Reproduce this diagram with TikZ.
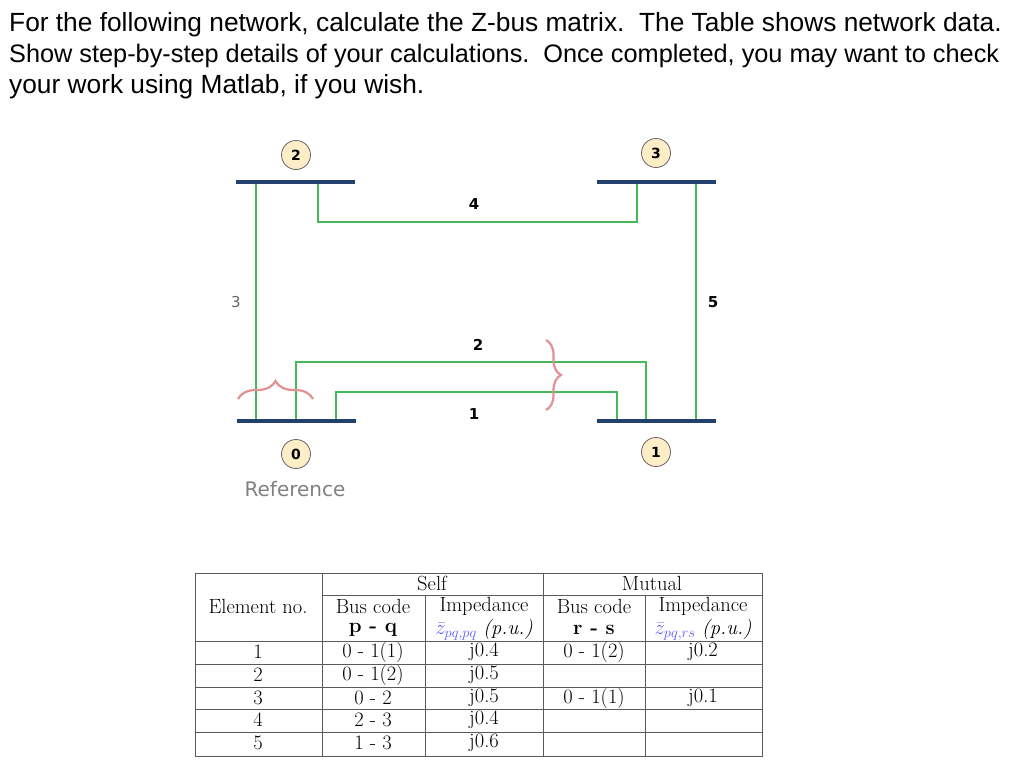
\documentclass[tikz,border=0pt]{standalone}
\usepackage{fontspec}
\newfontfamily\hel{Liberation Sans}
\newfontfamily\dvs{DejaVu Sans}
\usetikzlibrary{decorations.pathreplacing}
\definecolor{busblue}{RGB}{35,65,110}
\definecolor{lgreen}{RGB}{70,185,90}
\definecolor{circfill}{RGB}{253,238,200}
\definecolor{pinkb}{RGB}{225,145,145}
\definecolor{zblue}{RGB}{90,90,250}
\definecolor{tline}{RGB}{90,90,90}
\tikzset{
  bus/.style={line width=4pt,draw=busblue},
  elem/.style={line width=1.6pt,draw=lgreen},
  busnum/.style={circle,draw=gray!80!black,fill=circfill,line width=0.8pt,minimum size=29pt,inner sep=0pt,font=\dvs\bfseries\fontsize{14}{16}\selectfont},
  elab/.style={font=\dvs\bfseries\fontsize{15}{17}\selectfont},
  hdr/.style={anchor=base west,inner sep=0pt,font=\hel\fontsize{26.3}{28}\selectfont},
  brc/.style={draw=pinkb,line width=2.2pt,decorate},
  tl/.style={draw=tline,line width=0.7pt},
  tc/.style={font=\fontsize{20.5}{22}\selectfont,inner sep=0pt}
}
\begin{document}
\begin{tikzpicture}[x=1pt,y=-1pt]
\useasboundingbox (0,0) rectangle (1024,774);
% header
\node[hdr] (h1) at (9,31) {For the following network, calculate the Z-bus matrix.\ \ The Table shows network data.};
\node[hdr,font=\hel\fontsize{25.3}{28}\selectfont] (h2) at (9,62) {Show step-by-step details of your calculations.\ \ Once completed, you may want to check};
\node[hdr] (h3) at (9,93) {your work using Matlab, if you wish.};
% buses
\draw[bus] (236,182) -- (355,182);
\draw[bus] (597,182) -- (716,182);
\draw[bus] (237,421) -- (356,421);
\draw[bus] (597,421) -- (716,421);
\node[busnum] (n2) at (296,155) {2};
\node[busnum] (n3) at (656,153) {3};
\node[busnum] (n0) at (296,454) {0};
\node[busnum] (n1) at (656,452) {1};
\node[font=\dvs\fontsize{20}{22}\selectfont,text=gray] (ref) at (295,489) {Reference};
% elements
\draw[elem] (256,184) -- (256,419);
\draw[elem] (318,184) -- (318,222) -- (637,222) -- (637,184);
\draw[elem] (696,184) -- (696,419);
\draw[elem] (296,419) -- (296,362) -- (646,362) -- (646,419);
\draw[elem] (336,419) -- (336,392) -- (617,392) -- (617,419);
\node[elab] (l4) at (474,204) {4};
\node[elab] (l5) at (713,302) {5};
\node[elab] (l2) at (478,345) {2};
\node[elab] (l1) at (474,414) {1};
\node[font=\dvs\fontsize{15}{17}\selectfont,text=gray!80!black] (l3) at (236,302) {3};
% braces
\draw[brc,decoration={brace,amplitude=15pt}] (546,340) -- (546,410);
\draw[brc,decoration={brace,amplitude=18pt}] (238,399) -- (313,399);
% table
\draw[tl] (195,573) rectangle (762,756);
\foreach \y in {641,664,687,709,732} \draw[tl] (195,\y) -- (762,\y);
\draw[tl] (322,595) -- (762,595);
\foreach \x in {322,543} \draw[tl] (\x,573) -- (\x,756);
\foreach \x in {425,645} \draw[tl] (\x,595) -- (\x,756);
\node[tc] (ts) at (432,583) {Self};
\node[tc] (tm) at (652,583) {Mutual};
\node[tc] (te) at (258,606) {Element no.};
\node[tc] (tb1) at (373,606) {Bus code};
\node[tc] (ti1) at (484,606) {Impedance};
\node[tc] (tb2) at (594,606) {Bus code};
\node[tc] (ti2) at (703,606) {Impedance};
\node[tc] (pq) at (373,630) {\textbf{p - q}};
\node[tc] (rs) at (594,630) {\textbf{r - s}};
\node[tc] (z1) at (484,630) {$\textcolor{zblue}{\bar z_{pq,pq}}$ \textit{(p.u.)}};
\node[tc] (z2) at (703,630) {$\textcolor{zblue}{\bar z_{pq,rs}}$ \textit{(p.u.)}};
\foreach \y/\e/\b/\i in {652/1/0 - 1(1)/j0.4, 675/2/0 - 1(2)/j0.5, 698/3/0 - 2/j0.5, 720/4/2 - 3/j0.4, 743/5/1 - 3/j0.6}{
  \node[tc] at (258,\y) {\e};
  \node[tc] at (373,\y) {\b};
  \node[tc] at (484,\y) {\i};
}
\node[tc] (m1b) at (594,652) {0 - 1(2)};
\node[tc] (m1i) at (703,652) {j0.2};
\node[tc] (m3b) at (594,698) {0 - 1(1)};
\node[tc] (m3i) at (703,698) {j0.1};
\end{tikzpicture}
\end{document}
